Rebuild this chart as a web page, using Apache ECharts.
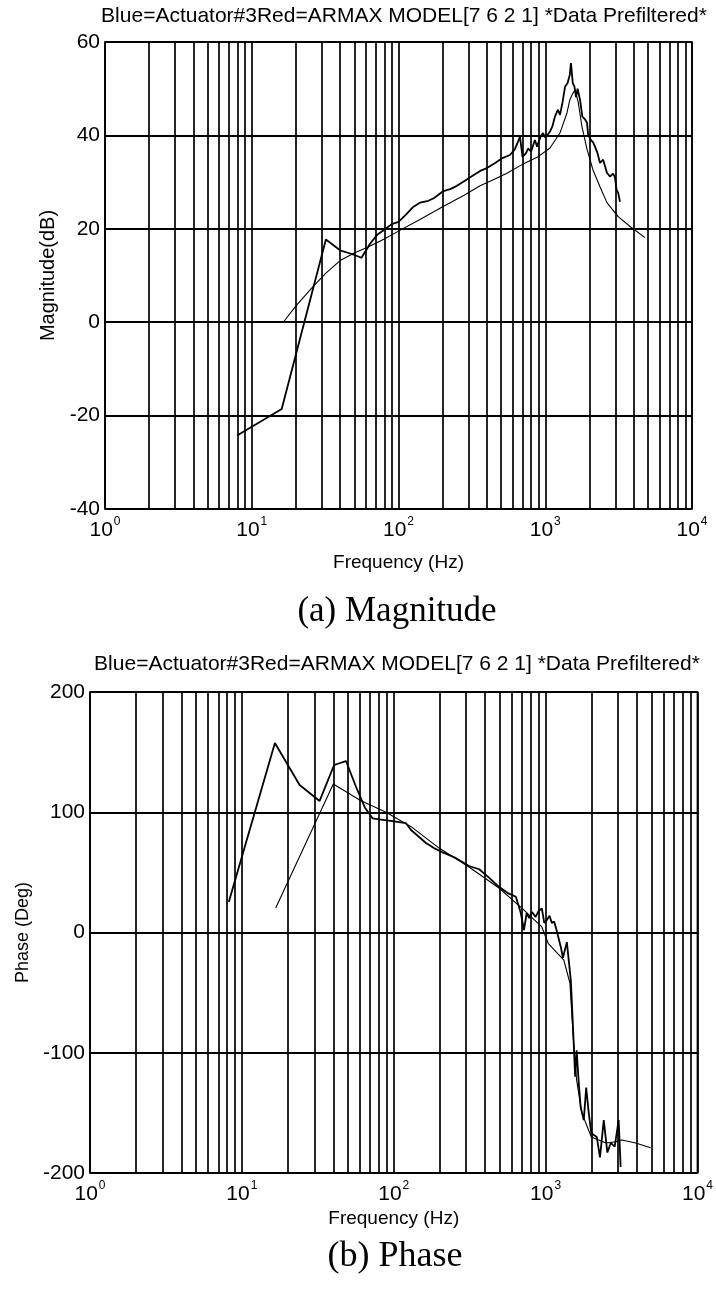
<!DOCTYPE html>
<html>
<head>
<meta charset="utf-8">
<script src="https://cdn.jsdelivr.net/npm/echarts@6/dist/echarts.min.js"></script>
<style>
  html, body { margin: 0; padding: 0; background: #fff; }
  #chart { width: 716px; height: 1298px; }
</style>
</head>
<body>
<div id="chart"></div>
<script>
// Bode plot of actuator #3: measured response vs. ARMAX [7 6 2 1] model

const headerText = 'Blue=Actuator#3Red=ARMAX MODEL[7 6 2 1] *Data Prefiltered*';
const captionMag = '(a) Magnitude';
const captionPhase = '(b) Phase';

const magTicks = [-40, -20, 0, 20, 40, 60];
const phaseTicks = [-200, -100, 0, 100, 200];
const freqDecades = [1, 10, 100, 1000, 10000];
// intermediate log grid lines (2..9 within each decade)
const minorFreqs = [2, 3, 4, 5, 6, 7, 8, 9,
                    20, 30, 40, 50, 60, 70, 80, 90,
                    200, 300, 400, 500, 600, 700, 800, 900,
                    2000, 3000, 4000, 5000, 6000, 7000, 8000, 9000];

// measured magnitude (dB)
const magMeasFreq = [8, 16, 32, 40, 48, 56, 64, 72, 80, 90, 100, 112, 125, 140, 160, 175, 200, 225, 250, 280,
  310, 360, 400, 450, 515, 575, 620, 673, 700, 740, 763, 800, 850, 880, 930, 966, 1000, 1040, 1077, 1120,
  1164, 1220, 1260, 1310, 1364, 1420, 1470, 1497, 1540, 1580, 1622, 1660, 1726, 1790, 1860, 1926, 1960, 2050,
  2120, 2183, 2270, 2361, 2480, 2632, 2760, 2900, 2986, 3060, 3140, 3230];
const magMeas = [-24.2, -18.6, 17.7, 15.4, 14.6, 13.8, 16.8, 18.8, 19.8, 21.0, 21.5, 23.0, 24.6, 25.6, 26.0, 26.6, 28.0, 28.5, 29.2, 30.2,
  31.1, 32.4, 33.0, 34.0, 35.2, 35.8, 37.0, 39.7, 35.4, 36.2, 37.2, 36.5, 39.0, 37.6, 39.8, 40.5, 39.5, 40.2, 40.8, 42.0,
  44.0, 45.5, 44.4, 47.0, 50.4, 51.2, 53.0, 55.5, 51.2, 50.5, 48.2, 50.0, 47.6, 44.0, 43.5, 42.7, 40.1, 39.0,
  38.5, 37.6, 36.2, 34.1, 34.8, 32.0, 31.2, 31.8, 31.0, 28.4, 27.7, 25.8];

// model magnitude (dB)
const magModelFreq = [16.6, 20, 25.8, 32, 40, 50, 61, 80, 100, 140, 200, 280, 360, 450, 540, 700, 880, 1077,
  1259, 1406, 1470, 1540, 1597, 1680, 1780, 1926, 2115, 2361, 2632, 3140, 3784, 4786];
const magModel = [0.2, 3.5, 7.4, 10.5, 13.2, 14.8, 16.0, 17.8, 19.5, 22.0, 24.7, 27.2, 29.2, 30.6, 31.8, 33.8, 35.3, 37.3,
  40.5, 44.8, 47.6, 49.0, 49.7, 47.0, 41.8, 37.0, 32.6, 29.0, 25.6, 22.6, 20.5, 18.1];

// measured phase (deg)
const phaseMeasFreq = [8.2, 16.5, 24, 32.5, 40.5, 48.5, 56.5, 64.5, 72.5, 80.5, 97.8, 120, 130, 145, 163, 185, 208, 230,
  257, 285, 313, 365, 420, 493, 560, 637, 687, 720, 750, 780, 813, 860, 900, 944, 980, 1020, 1060, 1099, 1140,
  1180, 1259, 1300, 1380, 1420, 1466, 1500, 1535, 1565, 1600, 1653, 1700, 1783, 1850, 1923, 2000, 2172, 2280,
  2415, 2550, 2685, 2850, 3027, 3120];
const phaseMeas = [25.4, 157.6, 122.7, 109.4, 139.3, 142.6, 121, 104, 95, 94, 92.7, 91, 85.2, 80, 74.4, 70, 66.9, 64.5,
  61.8, 58.5, 55.3, 52.6, 46, 38, 33, 29.7, 16, 2, 16, 12, 17, 13, 18, 20, 8, 10.4, 14, 8, 9,
  2, -12, -21, -8, -23, -40, -67, -95, -120, -98, -125, -145, -156, -129, -150, -167, -170, -187,
  -156, -183, -175, -178, -156, -195];

// model phase (deg)
const phaseModelFreq = [16.7, 40, 60, 89, 130, 200, 313, 493, 700, 944, 1040, 1318, 1445, 1535, 1600, 1730, 2000,
  2500, 2900, 3170, 3916, 4910];
const phaseModel = [20.4, 123.5, 110, 100, 88, 70, 54.5, 37, 20, 4.6, -9, -23, -42, -95, -122.6, -150, -170,
  -175, -174, -172.6, -175, -179];

const pairs = (xs, ys) => xs.map((x, i) => [x, ys[i]]);

const SANS = '"Liberation Sans", Arial, sans-serif';
const SERIF = '"Liberation Serif", "Times New Roman", serif';

const gridBoxes = [
  { left: 105, top: 42, width: 587, height: 467 },
  { left: 90, top: 692, width: 609, height: 481 }
];

function freqAxis(gridIndex, nameGap) {
  return {
    type: 'log', logBase: 10, gridIndex,
    min: freqDecades[0], max: freqDecades[freqDecades.length - 1],
    name: 'Frequency (Hz)', nameLocation: 'middle', nameGap,
    nameTextStyle: { fontFamily: SANS, fontSize: 19, color: '#000' },
    axisLine: { show: false },
    axisTick: { show: false },
    splitLine: { show: true, lineStyle: { color: '#000', width: 1.7 } },
    axisLabel: {
      margin: 7,
      formatter: v => '{b|10}{s|' + Math.round(Math.log10(v)) + '}',
      rich: {
        b: { fontFamily: SANS, fontSize: 21, color: '#000', verticalAlign: 'bottom' },
        s: { fontFamily: SANS, fontSize: 12, color: '#000', verticalAlign: 'bottom', padding: [0, 0, 13, 1] }
      }
    }
  };
}

function valueAxis(gridIndex, ticks, name, nameGap, nameSize) {
  return {
    type: 'value', gridIndex,
    min: ticks[0], max: ticks[ticks.length - 1], interval: ticks[1] - ticks[0],
    name, nameLocation: 'middle', nameGap,
    nameTextStyle: { fontFamily: SANS, fontSize: nameSize, color: '#000' },
    axisLine: { show: false },
    axisTick: { show: false },
    splitLine: { show: true, lineStyle: { color: '#000', width: 2 } },
    axisLabel: { fontFamily: SANS, fontSize: 21, color: '#000', margin: 5 }
  };
}

function minorLines() {
  return {
    silent: true, symbol: 'none', label: { show: false },
    lineStyle: { color: '#000', width: 1.7, type: 'solid' },
    emphasis: { disabled: true },
    data: minorFreqs.map(f => ({ xAxis: f }))
  };
}

function curve(idx, data, width, withGrid) {
  const s = {
    type: 'line', xAxisIndex: idx, yAxisIndex: idx, data,
    showSymbol: false, symbol: 'none', smooth: false, animation: false,
    lineStyle: { color: '#000', width }
  };
  if (withGrid) s.markLine = minorLines();
  return s;
}

const chart = echarts.init(document.getElementById('chart'), null, { renderer: 'canvas' });

chart.setOption({
  backgroundColor: '#fff',
  animation: false,
  grid: gridBoxes.map(g => Object.assign({ show: true, borderColor: '#000', borderWidth: 1.7, backgroundColor: '#fff', containLabel: false }, g)),
  xAxis: [freqAxis(0, 44), freqAxis(1, 36)],
  yAxis: [valueAxis(0, magTicks, 'Magnitude(dB)', 37, 20), valueAxis(1, phaseTicks, 'Phase (Deg)', 50, 18)],
  series: [
    curve(0, pairs(magModelFreq, magModel), 1.1, true),
    curve(0, pairs(magMeasFreq, magMeas), 1.8, false),
    curve(1, pairs(phaseModelFreq, phaseModel), 1.1, true),
    curve(1, pairs(phaseMeasFreq, phaseMeas), 1.8, false)
  ],
  graphic: [
    { type: 'text', x: 404, y: 16, style: { text: headerText, font: '21px ' + SANS, fill: '#000', align: 'center', verticalAlign: 'middle' } },
    { type: 'text', x: 397, y: 612, style: { text: captionMag, font: '35px ' + SERIF, fill: '#000', align: 'center', verticalAlign: 'middle' } },
    { type: 'text', x: 397, y: 664, style: { text: headerText, font: '21px ' + SANS, fill: '#000', align: 'center', verticalAlign: 'middle' } },
    { type: 'text', x: 395, y: 1257, style: { text: captionPhase, font: '36px ' + SERIF, fill: '#000', align: 'center', verticalAlign: 'middle' } }
  ]
});
</script>
</body>
</html>
